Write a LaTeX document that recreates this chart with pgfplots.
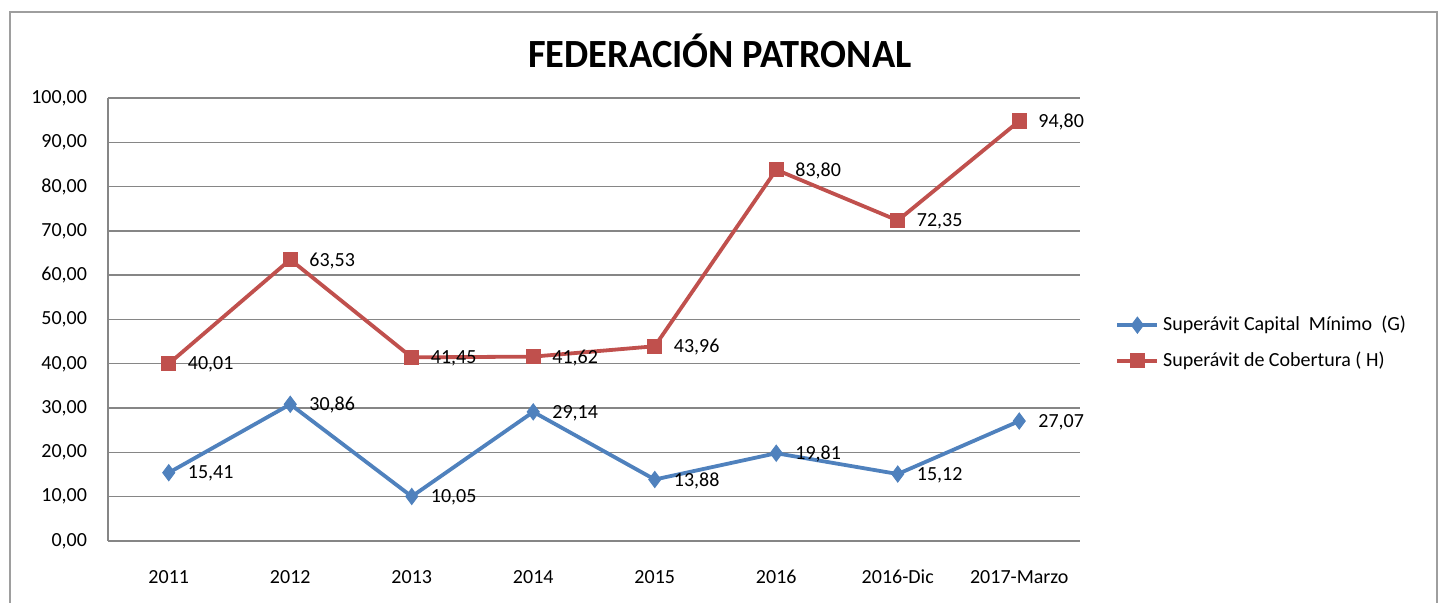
\documentclass[border=0pt]{standalone}
\usepackage{pgfplots}
\pgfplotsset{compat=1.18}
\usepackage{fontspec}
\setmainfont{Carlito}
\usepackage{graphicx}
\definecolor{cblue}{RGB}{79,129,189}
\definecolor{cred}{RGB}{192,80,77}
\definecolor{gridc}{RGB}{134,134,134}
\begin{document}
\begin{tikzpicture}
\useasboundingbox (-54pt,-31pt) rectangle (668.5pt,270.5pt);
\draw[gridc!80, line width=0.8pt] (-49pt,-40pt) -- (-49pt,264.5pt) -- (664.5pt,264.5pt) -- (664.5pt,-40pt);
\begin{axis}[
 at={(0,0)}, anchor=south west,
 width=486pt, height=221.5pt, scale only axis,
 xmin=-0.5, xmax=7.5, ymin=0, ymax=100,
 xtick={0,...,7},
 xticklabels={2011,2012,2013,2014,2015,2016,2016-Dic,2017-Marzo},
 ytick={0,10,...,100},
 axis x line*=bottom, axis y line*=left,
 ymajorgrids, grid style={gridc, line width=0.7pt},
 axis line style={gridc, line width=0.7pt},
 major tick length=0pt,
 /pgf/number format/assume math mode=true,
 y tick label style={/pgf/number format/fixed,/pgf/number format/fixed zerofill,/pgf/number format/precision=2,/pgf/number format/use comma},
 ticklabel style={font=\fontsize{10}{12}\selectfont, text=black},
 xticklabel style={yshift=-11pt},
 yticklabel style={xshift=-7pt},
 nodes near coords,
 every node near coord/.append style={anchor=west, xshift=6pt, yshift=-0.5pt, font=\fontsize{10}{12}\selectfont, text=black,
   /pgf/number format/fixed,/pgf/number format/fixed zerofill,/pgf/number format/precision=2,/pgf/number format/use comma},
 clip=false,
 legend image code/.code={\draw[mark repeat=2, mark phase=2] plot coordinates {(0cm,0cm) (0.35cm,0cm) (0.7cm,0cm)};},
 legend style={at={(1.03,0.447)}, anchor=west, draw=none, fill=none, font=\fontsize{10}{12}\selectfont, row sep=5pt},
 legend cell align=left,
]
\addplot[cblue, line width=1.9pt, mark=diamond*, mark size=4pt, mark options={fill=cblue, line width=0.5pt}]
 coordinates {(0,15.41) (1,30.86) (2,10.05) (3,29.14) (4,13.88) (5,19.81) (6,15.12) (7,27.07)};
\addlegendentry{Superávit Capital\ \ Mínimo\ \ (G)}
\addplot[cred, line width=1.9pt, mark=square*, mark size=3.6pt, mark options={fill=cred, line width=0.5pt}]
 coordinates {(0,40.01) (1,63.53) (2,41.45) (3,41.62) (4,43.96) (5,83.80) (6,72.35) (7,94.80)};
\addlegendentry{Superávit de Cobertura ( H)}
\end{axis}
\node[font=\fontsize{20}{24}\selectfont\bfseries] at (306pt,245pt) {\scalebox{0.96}[1]{FEDERACIÓN PATRONAL}};
\end{tikzpicture}
\end{document}
